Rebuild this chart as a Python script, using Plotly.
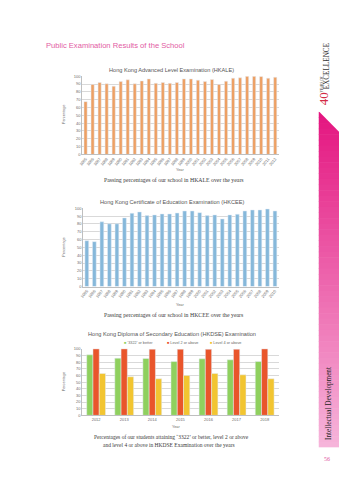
import plotly.graph_objects as go

W, H = 339, 480

# ---------------- data ----------------
ale_years = [str(y) for y in range(1985, 2013)]
ale_pass = [67.5, 89.5, 92, 90.3, 87.3, 93.2, 95.4, 90.3, 94, 96.6, 91, 92, 91, 92,
            96.6, 96.6, 95, 93.2, 95.8, 89.5, 93.7, 97.5, 98, 100, 100, 99.6, 97.5, 98.7]

cee_years = [str(y) for y in range(1985, 2011)]
cee_pass = [58.6, 57.4, 82.7, 80.2, 80.2, 87.8, 93.7, 95.4, 90.7, 91.6, 92.8, 92.8, 94,
            96.6, 96.6, 94.5, 90.7, 91.6, 86.5, 91.6, 92.4, 96.6, 97.9, 97.9, 99.2, 96.6]

dse_years = ["2012", "2013", "2014", "2015", "2016", "2017", "2018"]
dse_3322 = [91, 86, 85.5, 81, 85, 83.5, 81]
dse_l2 = [100, 100, 99.6, 99.6, 99.4, 99.5, 100]
dse_l4 = [63, 58, 55, 60, 63, 61, 55]
dse_names = ["‘3322’ or better", "Level 2 or above", "Level 4 or above"]

# ---------------- style ----------------
C_ALE = "#eda064"
C_CEE = "#86b8da"
C_DSE = ["#8fd05e", "#e9552b", "#f2c531"]
GRID = "#d9d9d9"
SANS = "Liberation Sans, Arial, sans-serif"
SERIF = "Liberation Serif, Times New Roman, serif"
TXT = "#555555"


def X(px):
    return px / W


def Y(py):
    return 1 - py / H


fig = go.Figure()
fig.add_trace(go.Bar(x=ale_years, y=ale_pass, xaxis="x", yaxis="y",
                     marker_color=C_ALE, width=0.45, showlegend=False))
fig.add_trace(go.Bar(x=cee_years, y=cee_pass, xaxis="x2", yaxis="y2",
                     marker_color=C_CEE, width=0.5, showlegend=False))
for vals, name, col in zip([dse_3322, dse_l2, dse_l4], dse_names, C_DSE):
    fig.add_trace(go.Bar(x=dse_years, y=vals, name=name, xaxis="x3", yaxis="y3",
                         marker_color=col, showlegend=False))


def xax(domain, anchor, angle):
    return dict(domain=domain, anchor=anchor, type="category", tickangle=angle,
                tickfont=dict(size=4, family=SANS, color="#6a6a6a"),
                showline=True, linecolor="#bfbfbf", linewidth=0.6, ticks="",
                showgrid=False, fixedrange=True)


def yax(domain, anchor):
    return dict(domain=domain, anchor=anchor, range=[0, 100], dtick=10,
                tickfont=dict(size=4, family=SANS, color="#6a6a6a"),
                gridcolor=GRID, gridwidth=0.6, showline=True, linecolor="#bfbfbf",
                linewidth=0.6, ticks="", zeroline=False, fixedrange=True)


fig.update_layout(
    width=W, height=H, margin=dict(l=0, r=0, t=0, b=0),
    paper_bgcolor="white", plot_bgcolor="white",
    barmode="group", bargap=0.33, bargroupgap=0,
    xaxis=xax([X(79), X(278)], "y", -50),
    yaxis=yax([Y(153), Y(74)], "x"),
    xaxis2=xax([X(80), X(278)], "y2", -50),
    yaxis2=yax([Y(286.5), Y(207.5)], "x2"),
    xaxis3=xax([X(79), X(278)], "y3", 0),
    yaxis3=yax([Y(416.7), Y(349.5)], "x3"),
)

ann = []


def text(x, y, s, size, color=TXT, family=SANS, angle=0, xanchor="center"):
    ann.append(dict(x=X(x), y=Y(y), xref="paper", yref="paper", text=s,
                    showarrow=False, textangle=angle, xanchor=xanchor, yanchor="middle",
                    font=dict(size=size, color=color, family=family)))


# page title
text(40, 42.5, "Public Examination Results of the School", 7.6, "#e25ba3", SANS, xanchor="left")

# chart titles
text(170, 68, "Hong Kong Advanced Level Examination (HKALE)", 5.6)
text(170, 201, "Hong Kong Certificate of Education Examination (HKCEE)", 5.6)
text(170, 334, "Hong Kong Diploma of Secondary Education (HKDSE) Examination", 5.6)

# axis titles
for yy in [113, 247, 383]:
    text(61, yy, "Percentage", 3.8, "#6a6a6a", SANS, angle=-90)
text(178, 168.5, "Year", 3.8, "#6a6a6a")
text(178, 305, "Year", 3.8, "#6a6a6a")
text(174, 428, "Year", 3.8, "#6a6a6a")

# captions
text(172, 179, "Passing percentages of our school in HKALE over the years", 5.8, "#3a3a3a", SERIF)
text(172, 315, "Passing percentages of our school in HKCEE over the years", 5.8, "#3a3a3a", SERIF)
text(169, 439, "Percentages of our students attaining ‘3322’ or better, level 2 or above", 5.5, "#3a3a3a", SERIF)
text(167, 447, "and level 4 or above in HKDSE Examination over the years", 5.5, "#3a3a3a", SERIF)

# manual legend for HKDSE
for lx, name, col in zip([119, 163, 206], dse_names, C_DSE):
    text(lx, 344, f"<span style='color:{col}'>■</span> {name}", 3.8, "#6a6a6a", SANS, xanchor="left")

# side decoration
text(324, 97, "40", 13, "#d32a45", SERIF, angle=-90)
text(321.6, 82.5, "YEARS OF", 3.3, "#333333", SERIF, angle=-90)
text(326.8, 63, "EXCELLENCE", 7.2, "#333333", SERIF, angle=-90)

shapes = []
# gradient pink band
top, bot, n = 110, 449, 60
c0 = (228, 22, 128)
c1 = (246, 180, 218)
for i in range(n):
    t = i / (n - 1)
    c = tuple(int(round(a + (b - a) * t)) for a, b in zip(c0, c1))
    y0 = top + (bot - top) * i / n
    y1 = top + (bot - top) * (i + 1) / n + 0.6
    shapes.append(dict(type="rect", xref="paper", yref="paper",
                       x0=X(318.5), x1=X(339), y0=Y(min(y1, bot)), y1=Y(y0),
                       fillcolor=f"rgb{c}", line=dict(width=0), layer="below"))
shapes.append(dict(type="path", xref="paper", yref="paper",
                   path=f"M {X(318)} {Y(top - 1)} L {X(340)} {Y(top - 1)} L {X(340)} {Y(131)} Z",
                   fillcolor="white", line=dict(width=0), layer="below"))

text(329, 405, "Intellectual Development", 7.2, "#222222", SERIF, angle=-90)
text(327, 461, "56", 6, "#e0559f", SERIF)

fig.update_layout(annotations=ann, shapes=shapes)
fig.write_html("out.html")
